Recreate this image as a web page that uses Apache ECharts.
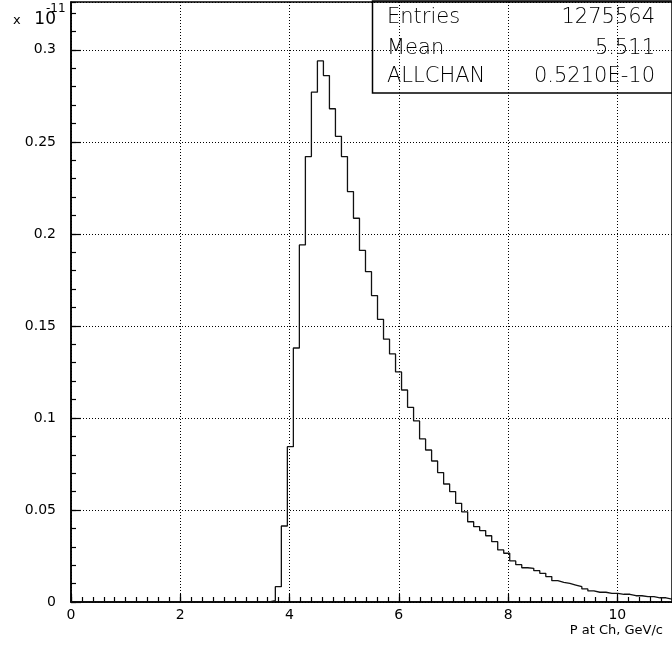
<!DOCTYPE html>
<html>
<head>
<meta charset="utf-8">
<script src="https://cdn.jsdelivr.net/npm/echarts@6/dist/echarts.min.js"></script>
<style>html,body{margin:0;padding:0;background:#fff}#c{width:672px;height:653px}</style>
</head>
<body>
<div id="c"></div>
<script>
// Histogram: 100 bins from 0 to 11 (values in units of 1e-11)
const xMin = 0, xMax = 11, nBins = 100;
const binValues = [
  0,0,0,0,0,0,0,0,0,0,
  0,0,0,0,0,0,0,0,0,0,
  0,0,0,0,0,0,0,0,0,0,
  0,0,0,0.0008,0.0083,0.0413,0.0844,0.138,0.194,0.242,
  0.277,0.294,0.286,0.268,0.253,0.242,0.223,0.2085,0.191,0.1795,
  0.1665,0.1536,0.1428,0.1348,0.125,0.1152,0.1058,0.0984,0.0886,0.0826,
  0.0766,0.0703,0.0641,0.0600,0.0536,0.049,0.0436,0.0409,0.0388,0.036,
  0.0328,0.0283,0.0265,0.0223,0.0203,0.0186,0.0183,0.0170,0.0156,0.0138,
  0.0116,0.0107,0.0101,0.0092,0.0083,0.0071,0.0060,0.0053,0.0053,0.0047,
  0.0047,0.0042,0.0042,0.0034,0.0034,0.0029,0.0029,0.0023,0.0023,0.0016
];
const xTickLabels = ['0','2','4','6','8','10'];
const yTickLabels = ['0','0.05','0.1','0.15','0.2','0.25','0.3'];
const statsNames = ['Entries','Mean','ALLCHAN'];
const statsValues = ['1275564','5.511','0.5210E-10'];
const xTitle = 'P at Ch, GeV/c';

const binW = (xMax - xMin) / nBins;
const stepData = binValues.map((v, i) => [xMin + i * binW, v]);
stepData.push([xMax, binValues[binValues.length - 1]]);

const FONT = 'DejaVu Sans';
const STATFONT = '200 21px "DejaVu Sans"';
const chart = echarts.init(document.getElementById('c'), null, {renderer: 'canvas'});
const dotted = {color: '#000', width: 1, type: [1, 2]};

chart.setOption({
  animation: false,
  backgroundColor: '#fff',
  grid: {left: 71, right: 0, top: 2, bottom: 51, show: true, borderColor: '#000', borderWidth: 1.5, backgroundColor: 'transparent'},
  xAxis: [
    {
      type: 'value', min: xMin, max: xMax, interval: 2, position: 'bottom',
      axisLine: {show: true, lineStyle: {color: '#000', width: 1.5}},
      axisTick: {show: true, inside: true, length: 8, lineStyle: {color: '#000', width: 1.2}},
      axisLabel: {
        show: true, margin: 6, color: '#000', fontFamily: FONT, fontSize: 14,
        showMaxLabel: false,
        formatter: v => { const i = Math.round(v / 2); return (Math.abs(v - i * 2) < 1e-6 && i < xTickLabels.length) ? xTickLabels[i] : ''; }
      },
      splitLine: {show: true, lineStyle: dotted}
    },
    {
      type: 'value', min: xMin, max: xMax, interval: 0.2, position: 'bottom', offset: 0,
      axisLine: {show: false},
      axisTick: {show: true, inside: true, length: 5, lineStyle: {color: '#000', width: 1.2}},
      axisLabel: {show: false},
      splitLine: {show: false}
    }
  ],
  yAxis: [
    {
      type: 'value', min: 0, max: 0.326, interval: 0.05, position: 'left',
      axisLine: {show: true, lineStyle: {color: '#000', width: 1.5}},
      axisTick: {show: true, inside: true, length: 10, lineStyle: {color: '#000', width: 1.2}},
      axisLabel: {
        show: true, margin: 15, color: '#000', fontFamily: FONT, fontSize: 14,
        showMaxLabel: false,
        formatter: v => { const i = Math.round(v / 0.05); return (Math.abs(v - i * 0.05) < 1e-6 && i < yTickLabels.length) ? yTickLabels[i] : ''; }
      },
      splitLine: {show: true, lineStyle: dotted}
    },
    {
      type: 'value', min: 0, max: 0.326, interval: 0.01, position: 'left', offset: 0,
      axisLine: {show: false},
      axisTick: {show: true, inside: true, length: 5, lineStyle: {color: '#000', width: 1.2}},
      axisLabel: {show: false},
      splitLine: {show: false}
    }
  ],
  series: [{
    type: 'line', xAxisIndex: 0, yAxisIndex: 0,
    data: stepData, step: 'end', showSymbol: false, symbol: 'none',
    lineStyle: {color: '#111', width: 1.3}, z: 5
  }],
  graphic: [
    {type: 'rect', shape: {x: 372.5, y: 1, width: 320, height: 92}, style: {stroke: '#000', lineWidth: 1.5, fill: null}, z: 10},
    {type: 'text', style: {x: 387, y: 18, text: statsNames[0], font: STATFONT, fill: '#000', textAlign: 'left', textVerticalAlign: 'middle'}, z: 11},
    {type: 'text', style: {x: 655, y: 18, text: statsValues[0], font: STATFONT, fill: '#000', textAlign: 'right', textVerticalAlign: 'middle'}, z: 11},
    {type: 'text', style: {x: 387, y: 49, text: statsNames[1], font: STATFONT, fill: '#000', textAlign: 'left', textVerticalAlign: 'middle'}, z: 11},
    {type: 'text', style: {x: 655, y: 49, text: statsValues[1], font: STATFONT, fill: '#000', textAlign: 'right', textVerticalAlign: 'middle'}, z: 11},
    {type: 'text', style: {x: 387, y: 77, text: statsNames[2], font: STATFONT, fill: '#000', textAlign: 'left', textVerticalAlign: 'middle'}, z: 11},
    {type: 'text', style: {x: 655, y: 77, text: statsValues[2], font: STATFONT, fill: '#000', textAlign: 'right', textVerticalAlign: 'middle'}, z: 11},
    {type: 'text', style: {x: 13, y: 21, text: 'x', font: '13px "DejaVu Sans"', fill: '#000', textAlign: 'left', textVerticalAlign: 'middle'}, z: 11},
    {type: 'text', style: {x: 56, y: 20, text: '10', font: '17px "DejaVu Sans"', fill: '#000', textAlign: 'right', textVerticalAlign: 'middle'}, z: 11},
    {type: 'text', style: {x: 46, y: 9, text: '-11', font: '12px "DejaVu Sans"', fill: '#000', textAlign: 'left', textVerticalAlign: 'middle'}, z: 12},
    {type: 'text', style: {x: 663, y: 631, text: xTitle, font: '13px "DejaVu Sans"', fill: '#000', textAlign: 'right', textVerticalAlign: 'middle'}, z: 11}
  ]
});
</script>
</body>
</html>
